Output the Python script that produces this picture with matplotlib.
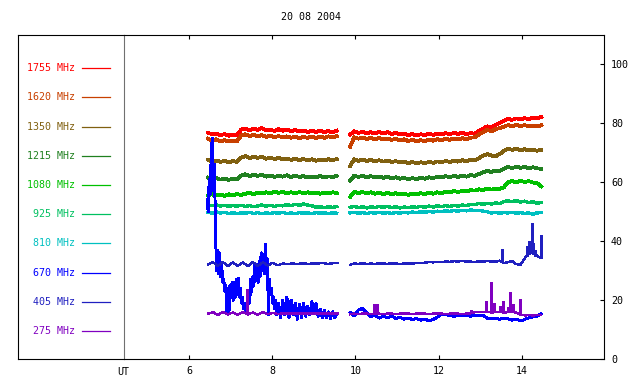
#!/usr/bin/env python3
"""Radio flux records of 20 08 2004 drawn as a multi-frequency time plot."""

import matplotlib

matplotlib.use("Agg")
import matplotlib.pyplot as plt
import numpy as np

plt.rcParams["font.family"] = ["DejaVu Sans Mono", "DejaVu Sans"]

TITLE = "20 08 2004"
FREQ_LABELS = ["1755 MHz", "1620 MHz", "1350 MHz", "1215 MHz", "1080 MHz",
               "925 MHz", "810 MHz", "670 MHz", "405 MHz", "275 MHz"]
COLORS = ["#ff0000", "#c84000", "#806010", "#208020", "#00c000",
          "#00c060", "#00c0c0", "#0000ff", "#2020c0", "#8000c0"]

# UT hours: two observing runs with a gap around 9.7 h
t_a = np.arange(6.45, 9.56, 0.1)
t_b = np.arange(9.87, 14.48, 0.1)
t_wave = np.arange(6.45, 9.6, 0.12)
t_burst = np.concatenate([np.arange(6.43, 8.09, 0.025), np.arange(8.10, 9.56, 0.05)])

s1755_a = [76.8, 76.3, 76.5, 75.9, 76.4, 75.8, 76.2, 76.0, 77.9, 78.3, 77.6, 78.2, 77.8, 78.4, 77.7, 77.9,
           77.4, 78.0, 77.5, 77.9, 77.3, 77.8, 77.2, 77.6, 77.0, 77.5, 77.1, 77.6, 77.0, 77.4, 76.9, 77.5]
s1755_b = [76.2, 77.3, 76.7, 77.2, 76.6, 77.0, 76.5, 77.1, 76.6, 77.0,
           76.4, 76.8, 76.2, 76.6, 76.0, 76.4, 75.9, 76.3, 76.0, 76.5,
           76.1, 76.6, 76.2, 76.7, 76.3, 76.8, 76.4, 76.9, 76.3, 76.7,
           76.5, 77.4, 78.2, 79.0, 78.6, 79.5, 80.1, 80.8, 81.5, 81.2,
           81.7, 81.3, 81.8, 81.4, 82.0, 81.6, 82.2]

s1620_a = [74.8, 74.2, 74.6, 73.9, 74.3, 73.8, 74.1, 73.9, 75.9, 76.3, 75.7, 76.1, 75.6, 76.0, 75.4, 75.8,
           75.3, 75.7, 75.2, 75.6, 75.1, 75.5, 75.0, 75.4, 75.1, 75.6, 75.0, 75.5, 75.1, 75.6, 75.2, 75.7]
s1620_b = [72.0, 75.3, 74.8, 75.2, 74.7, 75.1, 74.6, 75.0, 74.5, 74.9,
           74.4, 74.8, 74.2, 74.6, 74.0, 74.4, 73.9, 74.3, 74.0, 74.5,
           74.1, 74.6, 74.3, 74.8, 74.4, 74.9, 74.5, 75.0, 74.6, 75.1,
           75.3, 76.2, 77.0, 77.8, 77.3, 78.0, 78.4, 78.9, 79.4, 79.0,
           79.5, 79.1, 79.4, 79.0, 79.3, 78.9, 79.4]

s1350_a = [67.6, 67.0, 67.4, 66.9, 67.3, 66.8, 67.2, 66.9, 68.4, 68.9, 68.2, 68.7, 68.3, 68.6, 68.0, 68.4,
           67.9, 68.3, 67.7, 68.1, 67.6, 68.0, 67.5, 67.9, 67.4, 67.8, 67.3, 67.7, 67.4, 67.8, 67.5, 67.9]
s1350_b = [65.5, 67.8, 67.3, 67.7, 67.2, 67.6, 67.1, 67.5, 67.0, 67.4,
           66.9, 67.2, 66.7, 67.0, 66.5, 66.9, 66.4, 66.8, 66.5, 66.9,
           66.6, 67.1, 66.8, 67.2, 66.9, 67.3, 67.0, 67.5, 67.1, 67.6,
           67.5, 68.2, 69.0, 69.6, 69.1, 68.8, 69.6, 70.6, 71.4, 71.0,
           71.4, 70.9, 71.2, 70.8, 71.1, 70.7, 71.0]

s1215_a = [61.6, 61.0, 61.4, 60.9, 61.3, 60.8, 61.2, 61.0, 62.3, 62.7, 62.1, 62.6, 62.2, 62.5, 61.9, 62.3,
           61.8, 62.2, 61.9, 62.4, 61.7, 62.3, 61.8, 62.1, 61.6, 62.0, 61.7, 62.2, 61.6, 62.0, 61.8, 62.2]
s1215_b = [60.5, 62.3, 61.8, 62.2, 61.7, 62.1, 61.6, 62.0, 61.5, 61.9,
           61.4, 61.7, 61.2, 61.5, 61.0, 61.4, 61.1, 61.5, 61.2, 61.7,
           61.4, 61.9, 61.6, 62.1, 61.7, 62.2, 61.8, 62.3, 61.9, 62.4,
           62.2, 62.8, 63.4, 63.9, 63.5, 64.0, 63.8, 64.6, 65.2, 64.8,
           65.3, 64.9, 65.2, 64.8, 65.1, 64.7, 64.6]

s1080_a = [55.6, 55.9, 55.5, 55.8, 55.4, 55.9, 55.6, 56.0, 55.7, 56.1, 56.4, 56.0, 56.5, 56.2, 56.6, 56.3,
           56.8, 56.4, 56.7, 56.3, 56.6, 56.2, 56.7, 56.3, 56.6, 56.2, 56.5, 56.1, 56.5, 56.2, 56.6, 56.3]
s1080_b = [55.0, 56.8, 56.3, 56.7, 56.2, 56.6, 56.1, 56.5, 56.0, 56.4,
           55.9, 56.3, 55.8, 56.2, 55.7, 56.1, 55.9, 56.3, 56.0, 56.5,
           56.1, 56.6, 56.3, 56.8, 56.5, 57.0, 56.7, 57.1, 56.9, 57.3,
           57.2, 57.6, 57.4, 57.8, 57.5, 57.9, 57.7, 58.3, 60.0, 60.4,
           60.0, 60.5, 60.1, 60.4, 59.9, 59.7, 58.6]

s925_a = [52.4, 52.0, 52.3, 51.9, 52.2, 51.8, 52.1, 51.9, 52.2, 51.8, 52.1, 51.7, 52.0, 52.3, 51.9, 52.2,
          51.8, 52.2, 52.0, 52.4, 52.1, 52.5, 52.2, 52.6, 52.3, 52.0, 51.5, 51.7, 51.4, 51.7, 51.5, 51.8]
s925_b = [51.5, 51.8, 51.4, 51.7, 51.3, 51.7, 51.4, 51.8, 51.5, 51.8,
          51.4, 51.7, 51.3, 51.6, 51.4, 51.7, 51.5, 51.8, 51.5, 51.9,
          51.6, 52.0, 51.7, 52.1, 51.8, 52.2, 51.9, 52.3, 52.1, 52.5,
          52.4, 52.8, 52.5, 52.9, 52.6, 53.0, 52.8, 53.5, 53.7, 53.4,
          53.8, 53.3, 53.6, 53.1, 53.4, 52.9, 53.1]

s810_a = [49.8, 49.5, 49.9, 49.6, 49.8, 49.4, 49.7, 49.3, 49.6, 49.5, 49.8, 49.4, 49.7, 49.3, 49.6, 49.4,
          49.7, 49.5, 49.8, 49.4, 49.6, 49.3, 49.7, 49.5, 49.6, 49.4, 49.7, 49.5, 49.6, 49.4, 49.6, 49.5]
s810_b = [49.6, 49.8, 49.5, 49.7, 49.4, 49.7, 49.5, 49.8, 49.5, 49.7,
          49.4, 49.7, 49.5, 49.8, 49.6, 49.9, 49.7, 50.0, 49.8, 50.1,
          49.9, 50.2, 50.0, 50.3, 50.1, 50.4, 50.2, 50.5, 50.3, 50.6,
          50.4, 50.5, 50.2, 50.0, 49.6, 49.8, 49.5, 49.7, 49.6, 49.8,
          49.5, 49.7, 49.4, 49.6, 49.2, 49.6, 49.7]

s670_a = [54, 50, 61, 56, 70, 75, 57, 66, 46, 30,
          37, 29, 36, 28, 32, 26, 27, 23, 25, 16,
          24, 15.5, 25, 21, 26, 20, 26, 21, 27, 22,
          27.5, 21, 24, 19, 21, 17, 19, 16, 18, 16.5,
          22, 19, 27, 23, 28, 25, 32, 27, 31, 26,
          33, 28, 36, 30, 35, 29, 39, 30, 34, 15,
          27, 22, 24, 19, 21, 17, 20,
          15, 19, 14, 20, 15, 21, 14, 20, 15, 19,
          13.5, 18.5, 14, 19, 14.5, 18, 15, 19.5, 16, 19,
          14.5, 17, 14, 16.5, 14, 16, 13.8, 16, 14, 15.5]
s670_b = [15.8, 14.6, 16.6, 17.2, 15.6, 14.4, 14.8, 13.9, 14.5, 14.0,
          14.6, 13.8, 14.1, 13.5, 13.9, 13.4, 13.7, 13.2, 13.6, 12.9,
          13.4, 14.2, 15.3, 15.0, 14.8, 14.5, 14.9, 14.6, 14.9, 14.5,
          14.8, 14.6, 14.9, 13.8, 13.6, 13.9, 13.5, 13.9, 13.6, 13.2,
          13.6, 12.9, 13.4, 14.0, 14.3, 14.6, 15.3]

s405_a = [32.0, 32.9, 31.6, 32.9, 31.5, 32.8, 31.6, 32.8, 31.5, 32.9,
          31.6, 32.8, 31.7, 32.7, 31.8, 32.4, 32.3, 32.4, 32.3, 32.5,
          32.3, 32.4, 32.4, 32.6, 32.3, 32.5, 32.6]
s405_b = [32.0, 32.4, 32.3, 32.5, 32.3, 32.4, 32.3, 32.5, 32.4, 32.3,
          32.5, 32.4, 32.3, 32.4, 32.5, 32.4, 32.6, 32.5, 32.7, 32.9,
          32.8, 33.0, 32.9, 33.1, 33.0, 33.2, 33.1, 33.3, 33.0, 33.1,
          32.9, 33.2, 33.0, 33.3, 33.1, 33.0, 33.4, 32.6, 32.9, 33.2,
          32.2, 32.0, 34.0, 36.5, 36.0, 35.0, 34.3]
spike405_t = [13.52, 14.13, 14.17, 14.20, 14.24, 14.27, 14.31, 14.46]
spike405_lo = [33.2, 35.0, 35.5, 36.0, 36.0, 35.5, 35.0, 34.3]
spike405_hi = [37.3, 38.5, 40.1, 39.0, 46.3, 39.5, 37.0, 42.0]

s275_a = [15.4, 15.9, 15.0, 15.9, 15.1, 15.8, 15.0, 15.9, 15.1, 15.8,
          15.0, 15.9, 15.2, 15.7, 15.2, 15.5, 15.4, 15.5, 15.4, 15.5,
          15.4, 15.5, 15.4, 15.5, 15.4, 15.5, 15.4]
s275_b = [15.2, 15.4, 15.3, 15.4, 15.4, 15.3, 15.4, 15.4, 15.3, 15.4,
          15.4, 15.3, 15.4, 15.4, 15.4, 15.3, 15.4, 15.4, 15.4, 15.3,
          15.4, 15.4, 15.4, 15.3, 15.4, 15.4, 15.4, 15.3, 15.4, 15.5,
          15.9, 16.0, 15.9, 16.0, 15.8, 15.9, 16.0, 15.8, 15.9, 15.9,
          15.8, 15.1, 14.8, 14.9, 14.8, 14.9, 14.9]
spike275_t = [7.40, 10.44, 10.52, 12.77, 13.13, 13.27, 13.34, 13.48, 13.54, 13.68, 13.72, 13.80, 13.96]
spike275_lo = [15.5, 15.4, 15.4, 15.5, 15.8, 15.9, 15.9, 15.9, 15.9, 15.9, 15.8, 15.8, 15.8]
spike275_hi = [23.7, 18.6, 18.6, 16.6, 19.8, 26.0, 18.9, 18.1, 19.8, 17.6, 22.6, 18.6, 20.3]

SERIES = [
    (t_a, s1755_a, t_b, s1755_b),
    (t_a, s1620_a, t_b, s1620_b),
    (t_a, s1350_a, t_b, s1350_b),
    (t_a, s1215_a, t_b, s1215_b),
    (t_a, s1080_a, t_b, s1080_b),
    (t_a, s925_a, t_b, s925_b),
    (t_a, s810_a, t_b, s810_b),
    (t_burst, s670_a, t_b, s670_b),
    (t_wave, s405_a, t_b, s405_b),
    (t_wave, s275_a, t_b, s275_b),
]
LINE_WIDTHS = [2.0, 2.0, 2.0, 2.0, 2.0, 1.7, 1.7, 1.4, 1.0, 1.0]

W, H = 640, 384
FS = 7.2


def main() -> int:
    fig = plt.figure(figsize=(W / 100, H / 100), dpi=100)

    # left panel with the frequency key
    key = fig.add_axes([18 / W, 25 / H, 106 / W, 324 / H])
    key.set_xlim(0, 1)
    key.set_ylim(0, 1)
    key.set_xticks([])
    key.set_yticks([])
    key.spines["right"].set_visible(False)
    for y, label, color in zip(np.linspace(0.898, 0.086, len(FREQ_LABELS)), FREQ_LABELS, COLORS):
        key.text(0.54, y, label, color=color, fontsize=FS, ha="right", va="center")
        key.plot([0.604, 0.868], [y, y], color=color, lw=0.9)

    ax = fig.add_axes([124 / W, 25 / H, 480 / W, 324 / H])
    for (ta, ya, tb, yb), color, lw in zip(SERIES, COLORS, LINE_WIDTHS):
        ax.plot(ta, ya, color=color, lw=lw, antialiased=False)
        ax.plot(tb, yb, color=color, lw=lw, antialiased=False)
        if color == COLORS[8]:
            ax.vlines(spike405_t, spike405_lo, spike405_hi, color=color, lw=1.0, antialiased=False)
        if color == COLORS[9]:
            ax.vlines(spike275_t, spike275_lo, spike275_hi, color=color, lw=1.0, antialiased=False)

    ax.set_xlim(4.43, 15.98)
    ax.set_ylim(0, 110)
    ax.set_xticks(range(6, 15, 2))
    ax.set_yticks(range(0, 101, 20))
    ax.yaxis.tick_right()
    ax.tick_params(axis="x", direction="in", length=3, top=True, bottom=True,
                   labelsize=FS, pad=5)
    ax.tick_params(axis="y", direction="in", length=3, left=False, right=True,
                   labelsize=FS, pad=5)
    ax.spines["left"].set_color("#707070")

    fig.text(123.5 / W, 1 - 372 / H, "UT", fontsize=FS, ha="center", va="center")
    fig.text(311 / W, 1 - 17 / H, TITLE, fontsize=FS, ha="center", va="center")

    fig.savefig("out.png", dpi=100)
    plt.close(fig)
    return 0


if __name__ == "__main__":
    raise SystemExit(main())
